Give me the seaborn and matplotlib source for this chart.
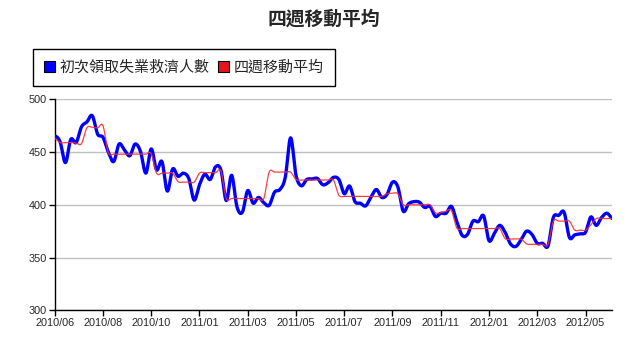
import numpy as np
import pandas as pd
import matplotlib
matplotlib.use("Agg")
import matplotlib.pyplot as plt
from matplotlib.patches import Patch
import seaborn as sns

# Weekly initial jobless claims (thousands) and their four-week moving average
claims = [
    465.5, 459.8, 440.0, 462.0, 459.0, 474.0, 478.5, 484.5, 467.0, 464.0,
    450.0, 441.0, 457.6, 452.0, 446.5, 457.6, 450.5, 430.0, 453.0, 433.0,
    441.0, 413.0, 434.0, 427.0, 430.0, 425.0, 404.5, 419.0, 429.0, 424.0,
    436.0, 433.0, 404.0, 428.0, 398.0, 393.0, 413.5, 401.5, 407.0, 402.0,
    399.5, 412.0, 414.5, 426.0, 463.5, 428.0, 418.0, 424.0, 424.5, 425.0,
    419.0, 421.0, 426.0, 424.0, 410.5, 417.8, 403.0, 401.5, 399.0, 407.5,
    414.5, 407.0, 410.0, 421.5, 417.0, 394.0, 401.0, 403.0, 402.5, 397.5,
    398.5, 389.0, 392.0, 392.0, 398.5, 384.0, 371.0, 372.0, 384.5, 384.0,
    389.5, 366.0, 373.0, 380.5, 374.0, 363.0, 360.5, 367.0, 375.0, 372.0,
    363.5, 363.5, 361.0, 388.0, 390.0, 393.0, 369.0, 371.5, 372.5, 374.0,
    388.5, 380.5, 388.0, 392.0, 387.0,
]
moving_avg = [
    463.0, 459.0, 459.0, 459.0, 458.5, 458.0, 473.0, 473.5, 473.0, 475.0,
    449.5, 448.0, 448.0, 448.0, 448.0, 448.0, 448.0, 448.0, 448.5, 430.0,
    430.0, 430.0, 430.0, 422.0, 421.5, 421.5, 421.5, 430.0, 430.5, 430.5,
    430.5, 432.0, 406.0, 406.0, 406.0, 406.0, 406.0, 406.0, 406.0, 406.0,
    431.0, 431.0, 431.0, 431.0, 431.0, 424.0, 423.5, 423.5, 423.5, 423.5,
    423.5, 423.5, 423.5, 409.0, 408.0, 408.0, 408.0, 408.0, 408.0, 408.0,
    408.0, 408.0, 410.5, 411.0, 410.5, 400.0, 400.0, 400.0, 400.0, 400.0,
    400.0, 392.5, 392.5, 394.0, 394.5, 378.0, 377.5, 377.5, 377.5, 377.5,
    377.5, 377.5, 377.5, 377.5, 368.0, 367.5, 367.5, 367.5, 363.0, 362.5,
    362.5, 362.5, 362.5, 384.5, 384.5, 384.5, 384.5, 376.0, 376.0, 376.0,
    381.0, 387.0, 387.0, 387.0, 387.0,
]
tick_labels = ["2010/06", "2010/08", "2010/10", "2011/01", "2011/03", "2011/05",
               "2011/07", "2011/09", "2011/11", "2012/01", "2012/03", "2012/05"]
tick_every = 9

series_claims = "初次領取失業救濟人數"
series_avg = "四週移動平均"
title = "四週移動平均"


def smooth(values, per_seg=12):
    """Catmull-Rom curve through every weekly value."""
    y = np.asarray(values, dtype=float)
    n = len(y)
    ext = np.concatenate([[y[0]], y, [y[-1]]])
    xs, ys = [], []
    t = np.linspace(0, 1, per_seg, endpoint=False)
    for i in range(n - 1):
        p0, p1, p2, p3 = ext[i], ext[i + 1], ext[i + 2], ext[i + 3]
        m1 = (p2 - p0) / 2
        m2 = (p3 - p1) / 2
        h00 = 2 * t**3 - 3 * t**2 + 1
        h10 = t**3 - 2 * t**2 + t
        h01 = -2 * t**3 + 3 * t**2
        h11 = t**3 - t**2
        xs.append(i + t)
        ys.append(h00 * p1 + h10 * m1 + h01 * p2 + h11 * m2)
    xs.append([n - 1])
    ys.append([y[-1]])
    return np.concatenate(xs), np.concatenate(ys)


frames = []
for name, vals in [(series_avg, moving_avg), (series_claims, claims)]:
    sx, sy = smooth(vals)
    frames.append(pd.DataFrame({"week": sx, "value": sy, "series": name}))
df = pd.concat(frames, ignore_index=True)

sns.set_style("white")
plt.rcParams["font.family"] = ["Liberation Sans", "Noto Sans CJK TC", "DejaVu Sans"]

fig = plt.figure(figsize=(6.31, 3.42), dpi=100)
ax = fig.add_axes([0.0867, 0.0927, 0.9704 - 0.0867, 0.7096 - 0.0927])

blue = "#0000ff"
red = "#ff2a2a"

sns.lineplot(data=df[df.series == series_claims], x="week", y="value",
             color=blue, linewidth=2.4, ax=ax, legend=False, zorder=3)
sns.lineplot(data=df[df.series == series_avg], x="week", y="value",
             color=red, linewidth=0.9, ax=ax, legend=False, zorder=4, alpha=0.9)

n = len(claims)
ax.set_xlim(0, n - 1)
ax.set_ylim(300, 500)
ax.set_xticks(np.arange(0, n, tick_every)[:len(tick_labels)])
ax.set_xticklabels(tick_labels)
ax.set_yticks([300, 350, 400, 450, 500])
ax.set_xlabel("")
ax.set_ylabel("")
ax.grid(axis="y", color="#c0c0c0", linewidth=1.0)
ax.grid(axis="x", visible=False)
ax.set_axisbelow(True)
for side in ["top", "right"]:
    ax.spines[side].set_visible(False)
for side in ["left", "bottom"]:
    ax.spines[side].set_color("black")
    ax.spines[side].set_linewidth(1.0)
ax.tick_params(axis="both", direction="out", length=4, width=1, color="black",
               labelsize=7.8, pad=1.5, bottom=True, left=True)

fig.text(0.513, 0.943, title, ha="center", va="center", fontsize=13.5,
         fontweight="bold", family=["Noto Sans CJK TC", "DejaVu Sans"])

handles = [Patch(facecolor=blue, edgecolor="black", linewidth=0.8),
           Patch(facecolor="#e8141c", edgecolor="black", linewidth=0.8)]
leg = fig.legend(handles, [series_claims, series_avg], loc="upper left",
                 bbox_to_anchor=(33 / 631, 1 - 49 / 342), ncol=2, frameon=True,
                 fancybox=False, framealpha=1, edgecolor="black",
                 prop={"family": ["Noto Sans CJK TC", "DejaVu Sans"], "size": 10.8},
                 handlelength=0.7, handleheight=0.7, handletextpad=0.3,
                 columnspacing=0.6, borderpad=0.75, borderaxespad=0)
leg.get_frame().set_linewidth(1.0)

fig.savefig("out.png", dpi=100, facecolor="white")
